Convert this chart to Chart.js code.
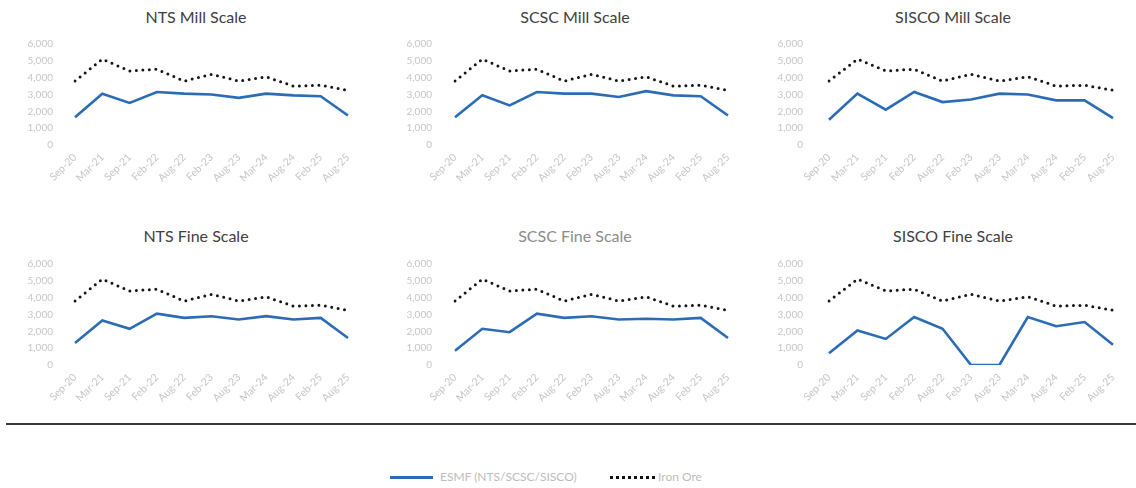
<!DOCTYPE html>
<html>
<head>
<meta charset="utf-8">
<script src="https://cdn.jsdelivr.net/npm/chart.js@4"></script>
<style>
  body { margin: 0; background: #fff; width: 1136px; height: 488px; position: relative; overflow: hidden; font-family: Lato, "Open Sans", sans-serif; }
  .box { position: absolute; }
  .ttl { position: absolute; width: 240px; text-align: center; font-size: 16px; color: #404040; }
  .rule { position: absolute; left: 6px; right: 0; top: 423px; height: 2px; background: #3a3a3a; }
  .lg { position: absolute; font-size: 12px; color: #bdbdbd; top: 469px; }
</style>
</head>
<body>

<div class="ttl" style="left:76px; top:7px;">NTS Mill Scale</div>
<div class="ttl" style="left:455px; top:7px;">SCSC Mill Scale</div>
<div class="ttl" style="left:833px; top:7px;">SISCO Mill Scale</div>
<div class="ttl" style="left:76px; top:226px;">NTS Fine Scale</div>
<div class="ttl" style="left:455px; top:226px; color:#8c8c8c;">SCSC Fine Scale</div>
<div class="ttl" style="left:833px; top:226px;">SISCO Fine Scale</div>

<div class="box" style="left:0px; top:0px;"><canvas id="c1"></canvas></div>
<div class="box" style="left:380px; top:0px;"><canvas id="c2"></canvas></div>
<div class="box" style="left:754px; top:0px;"><canvas id="c3"></canvas></div>
<div class="box" style="left:0px; top:220px;"><canvas id="c4"></canvas></div>
<div class="box" style="left:380px; top:220px;"><canvas id="c5"></canvas></div>
<div class="box" style="left:754px; top:220px;"><canvas id="c6"></canvas></div>

<div class="rule"></div>

<div style="position:absolute; left:390px; top:476px; width:43px; height:3px; background:#2b6cb5;"></div>
<div class="lg" style="left:440px;">ESMF (NTS/SCSC/SISCO)</div>
<div style="position:absolute; left:610px; top:476px; width:45px; border-top:3px dotted #111;"></div>
<div class="lg" style="left:658px;">Iron Ore</div>

<script>
const labels = ['Sep-20', 'Mar-21', 'Sep-21', 'Feb-22', 'Aug-22', 'Feb-23', 'Aug-23', 'Mar-24', 'Aug-24', 'Feb-25', 'Aug-25'];
const yTicks = [0, 1000, 2000, 3000, 4000, 5000, 6000];

// iron ore, same in every panel
const ironOre = [3800, 5100, 4400, 4500, 3800, 4200, 3800, 4050, 3500, 3550, 3250];

const ntsMill = [1650, 3050, 2500, 3150, 3050, 3000, 2800, 3050, 2950, 2900, 1750];
const scscMill = [1650, 2950, 2350, 3150, 3050, 3050, 2850, 3200, 2950, 2900, 1750];
const siscoMill = [1500, 3050, 2100, 3150, 2550, 2700, 3050, 3000, 2650, 2650, 1600];
const ntsFine = [1300, 2650, 2150, 3050, 2800, 2900, 2700, 2900, 2700, 2800, 1600];
const scscFine = [850, 2150, 1950, 3050, 2800, 2900, 2700, 2750, 2700, 2800, 1600];
const siscoFine = [700, 2050, 1550, 2850, 2150, 0, 0, 2850, 2300, 2550, 1200];

const tickColor = '#c6c6c6';

function makeChart(id, esmf, width, padRight, tickPad) {
    const cv = document.getElementById(id);
    cv.width = width;
    cv.height = 194;
    cv.style.width = width + 'px';
    cv.style.height = '194px';
    return new Chart(cv.getContext('2d'), {
        type: 'line',
        data: {
            labels: labels,
            datasets: [{
                label: 'ESMF (NTS/SCSC/SISCO)',
                data: esmf,
                borderColor: '#2b6cb5',
                borderWidth: 2.6,
                pointRadius: 0,
                tension: 0
            }, {
                label: 'Iron Ore',
                data: ironOre,
                borderColor: '#151515',
                borderWidth: 3,
                borderDash: [0, 6.5],
                borderCapStyle: 'round',
                pointRadius: 0,
                tension: 0
            }]
        },
        options: {
            responsive: false,
            animation: false,
            layout: {
                padding: { top: 44, right: padRight, bottom: 0, left: 0 }
            },
            plugins: {
                legend: { display: false },
                title: { display: false },
                tooltip: { enabled: false }
            },
            scales: {
                x: {
                    grid: { display: false, drawTicks: false },
                    border: { display: false },
                    ticks: {
                        color: tickColor,
                        font: { family: 'Lato', size: 10.5 },
                        minRotation: 45,
                        maxRotation: 45,
                        autoSkip: false,
                        padding: 6
                    },
                    afterFit: function(scale) { scale.height = 49; }
                },
                y: {
                    min: 0,
                    max: 6000,
                    grid: { display: false, drawTicks: false },
                    border: { display: false },
                    afterBuildTicks: function(scale) {
                        scale.ticks = yTicks.map(function(v) { return { value: v }; });
                    },
                    ticks: {
                        color: tickColor,
                        font: { family: 'Lato', size: 10 },
                        padding: tickPad,
                        callback: function(v) { return v.toLocaleString('en-US'); }
                    },
                    afterFit: function(scale) { scale.width = 75; }
                }
            }
        }
    });
}

makeChart('c1', ntsMill, 375, 27, 22);
makeChart('c2', scscMill, 375, 27, 23);
makeChart('c3', siscoMill, 382, 23, 26);
makeChart('c4', ntsFine, 375, 27, 22);
makeChart('c5', scscFine, 375, 27, 23);
makeChart('c6', siscoFine, 382, 23, 26);
</script>
</body>
</html>
